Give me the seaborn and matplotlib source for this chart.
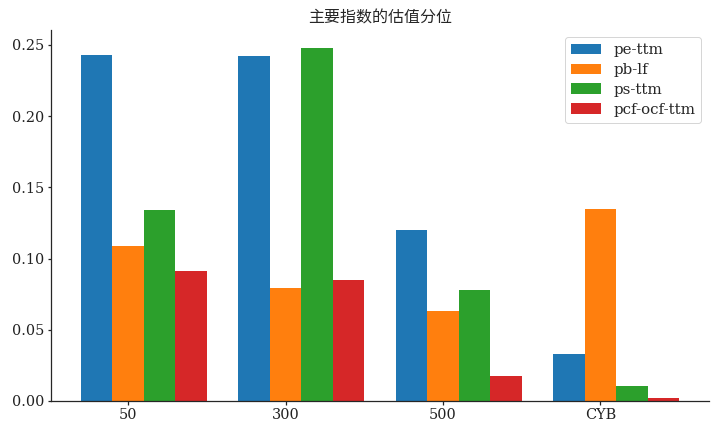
import matplotlib
matplotlib.use("Agg")
import matplotlib.pyplot as plt
import seaborn as sns
import numpy as np

categories = ["50", "300", "500", "CYB"]
series = ["pe-ttm", "pb-lf", "ps-ttm", "pcf-ocf-ttm"]
pe_ttm = [0.243, 0.242, 0.120, 0.033]
pb_lf = [0.109, 0.079, 0.0635, 0.135]
ps_ttm = [0.134, 0.248, 0.078, 0.0105]
pcf_ocf_ttm = [0.091, 0.085, 0.0175, 0.002]

sns.set_theme(style="ticks")
plt.rcParams["font.family"] = ["DejaVu Serif", "Noto Sans CJK SC"]
plt.rcParams["xtick.major.size"] = 3.5
plt.rcParams["ytick.major.size"] = 3.5

colors = sns.color_palette("tab10", 4)
fig, ax = plt.subplots(figsize=(10, 6), dpi=72)
base = np.arange(len(categories))
bar_w = 0.2
for k, (name, vals) in enumerate(zip(series, [pe_ttm, pb_lf, ps_ttm, pcf_ocf_ttm])):
    sns.barplot(x=base + (k - 1) * bar_w, y=vals, native_scale=True, width=bar_w,
                color=colors[k], saturation=1, edgecolor="none", linewidth=0,
                label=name, ax=ax)

ax.set_xticks(base)
ax.set_xticklabels(categories)
ax.set_xlim(-0.49, 3.69)
ax.set_ylim(0, 0.2604)
ax.set_xlabel("")
ax.set_ylabel("")
ax.set_title("主要指数的估值分位", family=["Noto Sans CJK SC"], fontsize=16,
             fontweight="medium", pad=7)
ax.tick_params(labelsize=14.5, colors="#222222")
sns.despine(ax=ax)
ax.legend(loc="upper right", fontsize=15, title=None, handlelength=2.0,
          labelspacing=0.38, borderaxespad=0.5)
fig.subplots_adjust(left=0.0708, right=0.9847, top=0.9306, bottom=0.0718)
fig.savefig("out.png", dpi=72)
